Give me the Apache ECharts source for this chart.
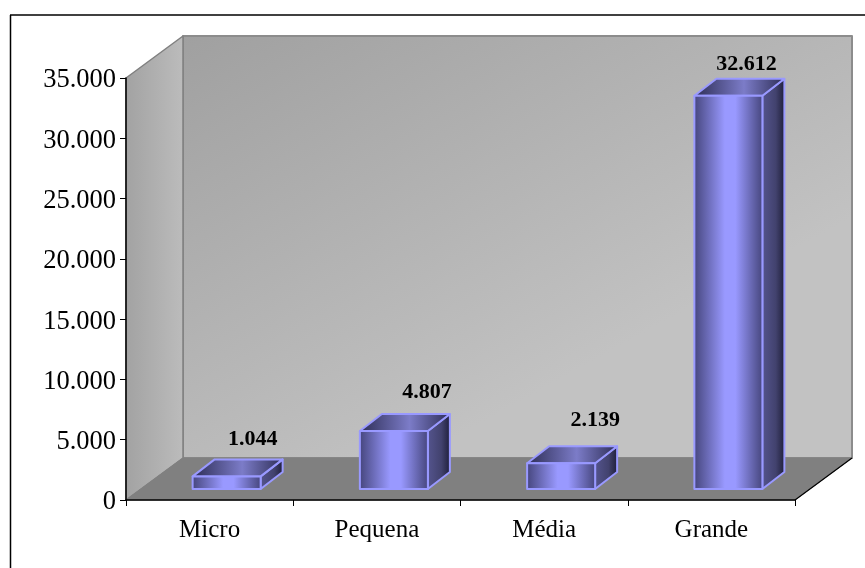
<!DOCTYPE html>
<html><head><meta charset="utf-8">
<style>html,body{margin:0;padding:0;background:#fff}#c{width:865px;height:568px}</style>
<script src="https://cdn.jsdelivr.net/npm/echarts@6/dist/echarts.min.js"></script>
</head><body><div id="c"></div>
<script>
const categories = ['Micro', 'Pequena', 'Média', 'Grande'];
const values = [1044, 4807, 2139, 32612];
const yTicks = { min: 0, max: 35000, interval: 5000 };
// hand placement of the value labels in the reference, in px from the bar's back-top centre
const labelNudgeX = [4, 11, 12, -4];
const labelNudgeY = [-9, -11, -15, -3];

const DX = 57, DY = -42;          // wall depth
const BDX = 22, BDY = -17;        // bar depth
const BAR_W = 68, BAR_IN = 11, BAR_SHIFT = 17;

const fmt = v => String(v).replace(/\B(?=(\d{3})+(?!\d))/g, '.');
const hGrad = stops => ({type:'linear',x:0,y:0,x2:1,y2:0,colorStops:stops.map(([o,c])=>({offset:o,color:c}))});
const poly = (points, fill, stroke, lw, z2) => ({type:'polygon',shape:{points},z2:z2||0,
  style:{fill,stroke:stroke||'none',lineWidth:lw||0,lineJoin:'round'}});

const chart = echarts.init(document.getElementById('c'), null, {renderer:'canvas'});
chart.setOption({
  animation:false,
  backgroundColor:'#fff',
  graphic:[
    {type:'line',shape:{x1:10,y1:15,x2:865,y2:15},style:{stroke:'#000',lineWidth:1.5},z:-1},
    {type:'line',shape:{x1:10.5,y1:15,x2:10.5,y2:568},style:{stroke:'#000',lineWidth:1.5},z:-1}
  ],
  grid:{left:126,right:70,top:78,bottom:68,containLabel:false},
  xAxis:{type:'category',data:categories,z:6,
    axisLine:{lineStyle:{color:'#000',width:1.5}},
    axisTick:{show:true,length:6,alignWithLabel:false,lineStyle:{color:'#000',width:1}},
    axisLabel:{color:'#000',fontFamily:'Liberation Serif',fontSize:25,margin:18},
    splitLine:{show:false}},
  yAxis:{type:'value',min:yTicks.min,max:yTicks.max,interval:yTicks.interval,z:6,
    axisLine:{show:true,lineStyle:{color:'#000',width:1.5}},
    axisTick:{show:true,length:6,lineStyle:{color:'#000',width:1}},
    axisLabel:{color:'#000',fontFamily:'Liberation Serif',fontSize:26.5,margin:10,verticalAlign:'top',lineHeight:5,formatter:fmt},
    splitLine:{show:false}},
  series:[
    {type:'custom',coordinateSystem:'cartesian2d',silent:true,z:1,data:[[0,0]],
     renderItem(p,api){
       const g = p.coordSys;
       const L=g.x,R=g.x+g.width,T=g.y,B=g.y+g.height;
       return {type:'group',children:[
         poly([[L+DX,T+DY],[R+DX,T+DY],[R+DX,B+DY],[L+DX,B+DY]],
           {type:'linear',x:0,y:0,x2:0.35,y2:1,colorStops:[{offset:0,color:'#a0a0a0'},{offset:1,color:'#c2c2c2'}]},'#8c8c8c',2),
         poly([[L,T],[L+DX,T+DY],[L+DX,B+DY],[L,B]],
           hGrad([[0,'#a2a2a2'],[1,'#bcbcbc']]),'#808080',1.5),
         poly([[L,B],[R,B],[R+DX,B+DY],[L+DX,B+DY]],'#808080','#808080',1),
         {type:'line',shape:{x1:R,y1:B,x2:R+DX,y2:B+DY},style:{stroke:'#000',lineWidth:1.2}}
       ]};
     }},
    {type:'custom',coordinateSystem:'cartesian2d',z:3,silent:true,
     data:values.map((v,i)=>[i,v]),encode:{x:0,y:1},
     renderItem(p,api){
       const i=api.value(0), v=api.value(1);
       const base=api.coord([i,0]), top=api.coord([i,v]);
       const xl=base[0]+BAR_SHIFT-BAR_W/2, xr=xl+BAR_W;
       const yb=base[1]-BAR_IN, yt=yb-(base[1]-top[1]);
       const S='#9999ff', W=2;
       const lx=xl+BAR_W/2+BDX+labelNudgeX[i];
       return {type:'group',children:[
         poly([[xr,yt],[xr+BDX,yt+BDY],[xr+BDX,yb+BDY],[xr,yb]],
           hGrad([[0,'#55558f'],[0.6,'#42426e'],[1,'#1c1c36']]),S,W),
         poly([[xl,yt],[xr,yt],[xr+BDX,yt+BDY],[xl+BDX,yt+BDY]],
           hGrad([[0,'#2c2c54'],[0.55,'#7c7cc8'],[1,'#2c2c54']]),S,W),
         poly([[xl,yb],[xr,yb],[xr,yt],[xl,yt]],
           hGrad([[0,'#44447a'],[0.45,'#9999ff'],[0.6,'#9999ff'],[1,'#44447a']]),S,W),
         {type:'text',z2:5,style:{text:fmt(v),x:lx,y:yt+BDY+labelNudgeY[i],align:'center',verticalAlign:'bottom',
           fill:'#000',font:'bold 22px "Liberation Serif"'}}
       ]};
     }}
  ]
});
</script></body></html>
